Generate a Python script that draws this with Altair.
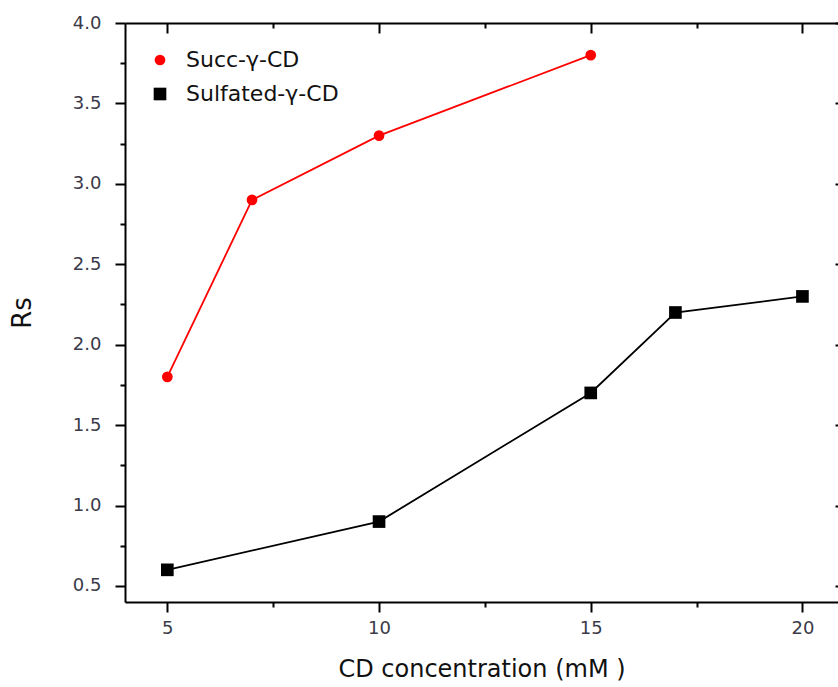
import altair as alt
import pandas as pd

# ---- data ----
series_names = ["Succ-γ-CD", "Sulfated-γ-CD"]
succ_x = [5, 7, 10, 15]
succ_y = [1.8, 2.9, 3.3, 3.8]
sulf_x = [5, 10, 15, 17, 20]
sulf_y = [0.6, 0.9, 1.7, 2.2, 2.3]

series_colors = ["#ff0000", "#000000"]
series_shapes = ["circle", "square"]
series_sizes = [115, 160]

x_major = [5, 10, 15, 20]
x_minor = [7.5, 12.5, 17.5]
y_major = [0.5, 1.0, 1.5, 2.0, 2.5, 3.0, 3.5, 4.0]
y_minor = [0.75, 1.25, 1.75, 2.25, 2.75, 3.25, 3.75]

rows = []
for xv, yv in zip(succ_x, succ_y):
    rows.append({"x": xv, "y": yv, "series": series_names[0]})
for xv, yv in zip(sulf_x, sulf_y):
    rows.append({"x": xv, "y": yv, "series": series_names[1]})
df = pd.DataFrame(rows)

FONT = "DejaVu Sans"

xs = alt.Scale(domain=[4, 20.84], nice=False, zero=False)
ys = alt.Scale(domain=[0.4, 4.0], nice=False, zero=False)
cs = alt.Scale(domain=series_names, range=series_colors)
ss = alt.Scale(domain=series_names, range=series_shapes)
szs = alt.Scale(domain=series_names, range=series_sizes)

common = dict(grid=False, tickColor="black", tickWidth=2, domainColor="black", domainWidth=2,
              labelColor="#3a3a48", labelFontSize=18, labelFont=FONT, titleFont=FONT,
              titleFontWeight="normal", titleColor="#111111")

legend = alt.Legend(orient="none", legendX=24, legendY=26, title=None, labelFontSize=22,
                    labelFont=FONT, labelColor="#111111", symbolSize=140, labelOffset=15,
                    rowPadding=12, padding=0, symbolStrokeWidth=0)

base = alt.Chart(df)

line_succ = base.transform_filter(alt.datum.series == series_names[0]).mark_line(
    strokeWidth=1.8, color=series_colors[0]
).encode(
    x=alt.X("x:Q", scale=xs, axis=alt.Axis(orient="bottom", values=x_major, tickSize=10,
                                           labelPadding=7, format="d", domain=True,
                                           title="CD concentration (mM )", titleFontSize=24,
                                           titlePadding=20, **common)),
    y=alt.Y("y:Q", scale=ys, axis=alt.Axis(orient="left", values=y_major, tickSize=10,
                                           labelPadding=14, format=".1f", domain=True,
                                           title="Rs", titleFontSize=26, titlePadding=37,
                                           **common)),
)

line_sulf = base.transform_filter(alt.datum.series == series_names[1]).mark_line(
    strokeWidth=1.8, color=series_colors[1]
).encode(
    x=alt.X("x:Q", scale=xs, axis=None),
    y=alt.Y("y:Q", scale=ys, axis=None),
)

points = base.mark_point(filled=True, opacity=1).encode(
    x=alt.X("x:Q", scale=xs, axis=alt.Axis(orient="bottom", values=x_minor, tickSize=5,
                                           labels=False, domain=False, title=None, **common)),
    y=alt.Y("y:Q", scale=ys, axis=alt.Axis(orient="left", values=y_minor, tickSize=5,
                                           labels=False, domain=False, title=None, **common)),
    color=alt.Color("series:N", scale=cs, legend=legend),
    shape=alt.Shape("series:N", scale=ss, legend=legend),
    size=alt.Size("series:N", scale=szs, legend=legend),
)

top_major = base.mark_point(opacity=0).encode(
    x=alt.X("x:Q", scale=xs, axis=alt.Axis(orient="top", values=x_major, tickSize=10, offset=-10,
                                           labels=False, domain=False, title=None, **common)),
    y=alt.Y("y:Q", scale=ys, axis=alt.Axis(orient="right", values=y_major, tickSize=10, offset=-3,
                                           labels=False, domain=False, title=None, **common)),
)

top_minor = base.mark_point(opacity=0).encode(
    x=alt.X("x:Q", scale=xs, axis=alt.Axis(orient="top", values=x_minor, tickSize=5, offset=-5,
                                           labels=False, domain=False, title=None, **common)),
    y=alt.Y("y:Q", scale=ys, axis=None),
)

top_line = base.mark_point(opacity=0).encode(
    x=alt.X("x:Q", scale=xs, axis=alt.Axis(orient="top", ticks=False, labels=False, domain=True,
                                           title=None, **common)),
    y=alt.Y("y:Q", scale=ys, axis=None),
)

chart = alt.layer(line_succ, line_sulf, points, top_major, top_minor, top_line).resolve_scale(
    x="shared", y="shared"
).resolve_axis(
    x="independent", y="independent"
).properties(
    width=713, height=579, autosize="none",
    padding={"left": 125, "top": 23, "right": 0, "bottom": 85},
).configure(font=FONT).configure_view(stroke=None)

chart.save("out.html", embed_options={"renderer": "svg", "actions": False})
